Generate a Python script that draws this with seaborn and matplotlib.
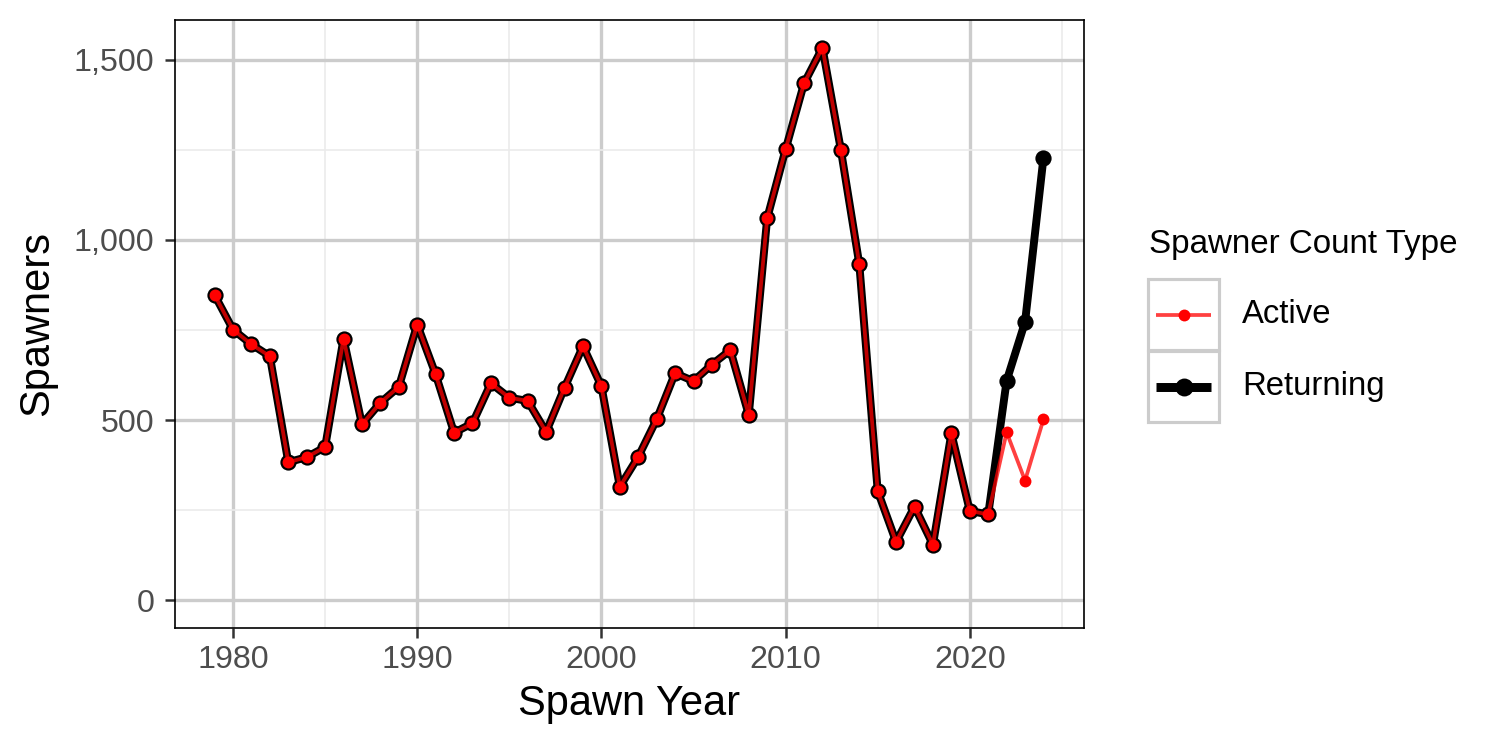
import matplotlib
matplotlib.use("Agg")
import matplotlib.pyplot as plt
from matplotlib.patches import Rectangle
from matplotlib.lines import Line2D
from matplotlib.ticker import FuncFormatter, MultipleLocator
import seaborn as sns
import pandas as pd

# data
years = list(range(1979, 2025))
returning = [847, 751, 710, 677, 383, 397, 425, 726, 488, 548,
             592, 765, 627, 465, 491, 602, 562, 553, 467, 590,
             705, 594, 315, 398, 502, 630, 608, 654, 694, 514,
             1060, 1251, 1434, 1533, 1250, 933, 303, 162, 260, 154,
             463, 248, 238, 609, 772, 1228]
active = returning[:43] + [466, 332, 502]

df = pd.DataFrame({
    'Spawn Year': years * 2,
    'Spawners': returning + active,
    'Type': ['Returning'] * len(years) + ['Active'] * len(years),
})

sns.set_theme(style='white')
plt.rcParams['font.family'] = ['Liberation Sans', 'DejaVu Sans']

W, H = 1500, 750
fig = plt.figure(figsize=(10, 5), dpi=150)
ax = fig.add_axes([175 / W, 122 / H, 909 / W, 608 / H])

red = '#FF0000'
blk_lw, blk_ms = 3.8, 7.8
red_lw, red_ms = 1.8, 5.7

# returning: thick black
sns.lineplot(data=df[df['Type'] == 'Returning'], x='Spawn Year', y='Spawners',
             color='black', linewidth=blk_lw, marker='o', markersize=blk_ms,
             markeredgewidth=0, estimator=None, ax=ax, zorder=3)
# active: thin red on top
sns.lineplot(data=df[df['Type'] == 'Active'], x='Spawn Year', y='Spawners',
             color=red, alpha=0.75, linewidth=red_lw, marker=None,
             estimator=None, ax=ax, zorder=4)
sns.scatterplot(data=df[df['Type'] == 'Active'], x='Spawn Year', y='Spawners',
                color=red, s=red_ms ** 2, linewidth=0, ax=ax, zorder=5)

ax.set_xlim(1976.85, 2026.2)
ax.set_ylim(-77, 1610)
ax.xaxis.set_major_locator(MultipleLocator(10))
ax.xaxis.set_minor_locator(MultipleLocator(5))
ax.yaxis.set_major_locator(MultipleLocator(500))
ax.yaxis.set_minor_locator(MultipleLocator(250))
ax.yaxis.set_major_formatter(FuncFormatter(lambda v, p: f'{int(v):,}'))

ax.grid(which='major', color='#CCCCCC', linewidth=1.6)
ax.grid(which='minor', color='#EBEBEB', linewidth=0.8)
ax.set_axisbelow(True)
for s in ax.spines.values():
    s.set_color('black')
    s.set_linewidth(0.8)

ax.tick_params(which='major', direction='out', length=5, width=1.2,
               color='#333333', labelcolor='#4D4D4D', labelsize=15.5,
               bottom=True, left=True)
ax.tick_params(axis='x', which='major', pad=3)
ax.tick_params(axis='y', which='major', pad=5)
ax.tick_params(which='minor', length=0)
ax.set_xlabel('')
ax.set_ylabel('')


def fx(px):
    return px / W


def fy(py):
    return 1 - py / H


fig.text(fx(629.5), fy(704), 'Spawn Year', fontsize=20, ha='center',
         va='center', color='black')
fig.text(fx(37.5), fy(324), 'Spawners', fontsize=20, ha='center',
         va='center', rotation=90, color='black')

# legend drawn by hand to get ggplot-style key boxes
fig.text(fx(1149), fy(245), 'Spawner Count Type', fontsize=15.9,
         va='center', ha='left', color='black')
keys = [('Active', red, red_lw, 0.75, red_ms),
        ('Returning', 'black', 4.3, 1.0, 8.6)]
for i, (lab, col, lw, al, ms) in enumerate(keys):
    top = 279 + i * 72
    fig.add_artist(Rectangle((fx(1148), fy(top + 71)), 71 / W, 71 / H,
                             transform=fig.transFigure, facecolor='white',
                             edgecolor='#CCCCCC', linewidth=1.5))
    cy = fy(top + 36)
    fig.add_artist(Line2D([fx(1156), fx(1211)], [cy, cy], color=col,
                          linewidth=lw, alpha=al, solid_capstyle='butt',
                          transform=fig.transFigure))
    fig.add_artist(Line2D([fx(1183.5)], [cy], color=col, marker='o',
                          markersize=ms, markeredgewidth=0,
                          transform=fig.transFigure))
    fig.text(fx(1242), cy, lab, fontsize=15.8, va='center', ha='left',
             color='black')

fig.savefig('out.png', dpi=150)
